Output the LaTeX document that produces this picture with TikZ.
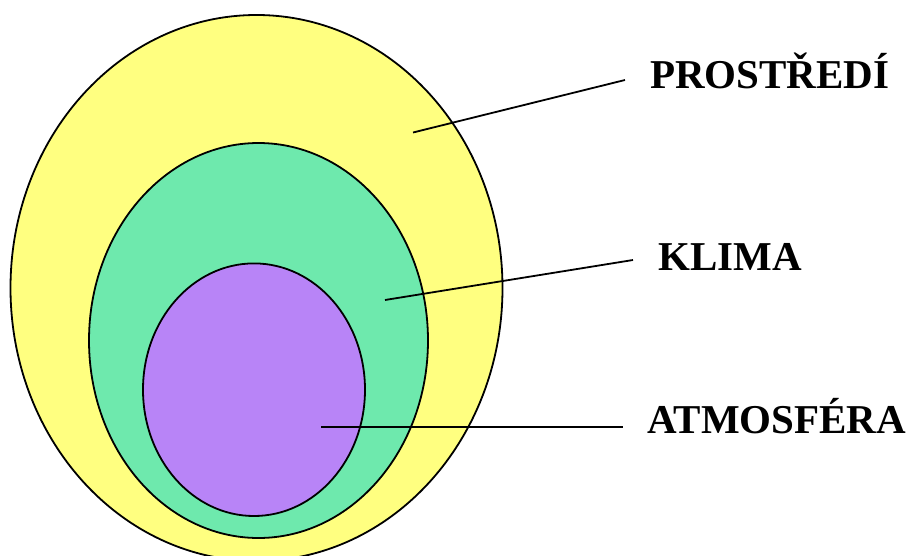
\documentclass[tikz,border=0pt]{standalone}
\usepackage{fontspec}
\setmainfont{Liberation Serif}
\begin{document}
\begin{tikzpicture}[x=1pt,y=-1pt,
  ring/.style={draw=black,line width=1.8pt},
  leader/.style={draw=black,line width=1.8pt},
  lab/.style={anchor=base west,inner sep=0pt,font=\fontsize{41}{41}\selectfont\bfseries}]
\definecolor{cyellow}{HTML}{FFFF80}
\definecolor{cgreen}{HTML}{6EE9AD}
\definecolor{cpurple}{HTML}{B884F7}
\useasboundingbox (0,0) rectangle (914,555);
\clip (0,0) rectangle (914,555);
\fill[white] (0,0) rectangle (914,555);
% ellipses
\filldraw[ring,fill=cyellow] (256.5,288) ellipse [x radius=246, y radius=273];
\filldraw[ring,fill=cgreen] (258.5,340.5) ellipse [x radius=169.5, y radius=197.5];
\filldraw[ring,fill=cpurple] (254,389.7) ellipse [x radius=111, y radius=126.3];
% labels
\node[lab] (prostredi) at (650,88) {PROSTŘEDÍ};
\node[lab] (klima) at (658,270) {KLIMA};
\node[lab] (atmosfera) at (647,433) {ATMOSFÉRA};
% leader coordinates
\coordinate (s1) at (413,132.5);
\coordinate (e1) at (625,80);
\coordinate (s2) at (385,300);
\coordinate (e2) at (633,260);
\coordinate (s3) at (321,426.7);
\coordinate (e3) at (623,426.7);
\draw[leader] (s1) -- (e1);
\draw[leader] (s2) -- (e2);
\draw[leader] (s3) -- (e3);
\end{tikzpicture}
\end{document}
